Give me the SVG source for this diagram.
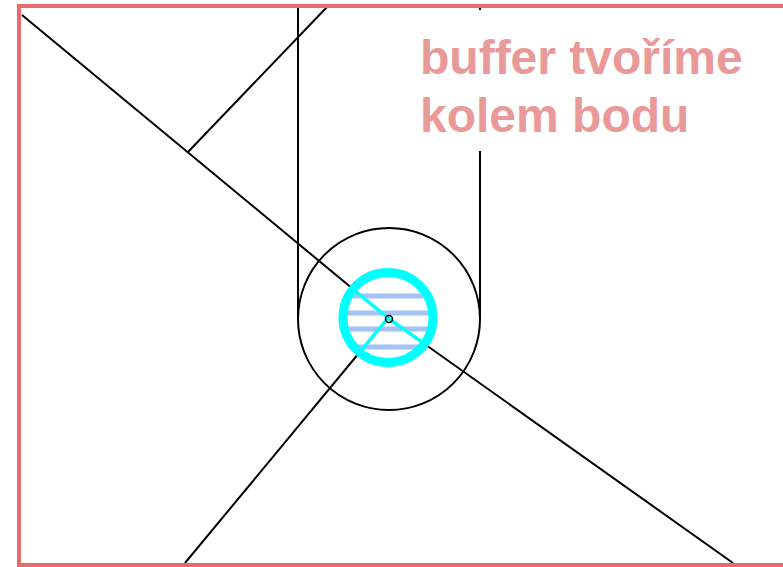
<svg xmlns="http://www.w3.org/2000/svg" width="783" height="567" viewBox="0 0 783 567">
<style>
.ln{fill:none;stroke:#000;stroke-width:2}
.hatch{stroke:#a4c2f4;stroke-width:5}
.cy{fill:none;stroke:#00ffff}
.lbl{font-family:"Liberation Sans",Arial,sans-serif;font-weight:bold;font-size:48px;fill:#ea9999}
</style>
<defs>
<clipPath id="inner"><circle cx="388" cy="318" r="41"/></clipPath>
</defs>
<rect width="783" height="567" fill="#fff"/>
<g id="lines">
<polyline class="ln" points="22,15 388,318 733,563"/>
<line class="ln" x1="188" y1="152" x2="327" y2="7"/>
<line class="ln" x1="298" y1="7" x2="298" y2="318"/>
<line class="ln" x1="480" y1="151" x2="480" y2="318"/>
<line class="ln" x1="480" y1="6" x2="480" y2="10"/>
<line class="ln" x1="388" y1="318" x2="185" y2="563"/>
<circle class="ln" cx="389" cy="319" r="91"/>
</g>
<g id="buffer">
<g clip-path="url(#inner)">
<line class="hatch" x1="340" y1="296" x2="440" y2="296"/>
<line class="hatch" x1="340" y1="313" x2="440" y2="313"/>
<line class="hatch" x1="340" y1="329" x2="440" y2="329"/>
<line class="hatch" x1="340" y1="347" x2="440" y2="347"/>
<line class="cy" stroke-width="3.5" x1="340" y1="278.5" x2="388" y2="318"/>
<line class="cy" stroke-width="3.5" x1="388" y1="318" x2="440" y2="355"/>
<line class="cy" stroke-width="3.5" x1="388" y1="318" x2="350" y2="364"/>
</g>
<circle cx="389" cy="319" r="3.5" fill="none" stroke="#000" stroke-width="1.5"/>
<circle class="cy" cx="388" cy="317.5" r="45" stroke-width="9"/>
</g>
<rect x="19" y="6" width="770" height="559" fill="none" stroke="#e46c6c" stroke-width="4"/>
<g id="label">
<text class="lbl" x="420" y="74">buffer tvoříme</text>
<text class="lbl" x="420" y="132">kolem bodu</text>
</g>
</svg>
